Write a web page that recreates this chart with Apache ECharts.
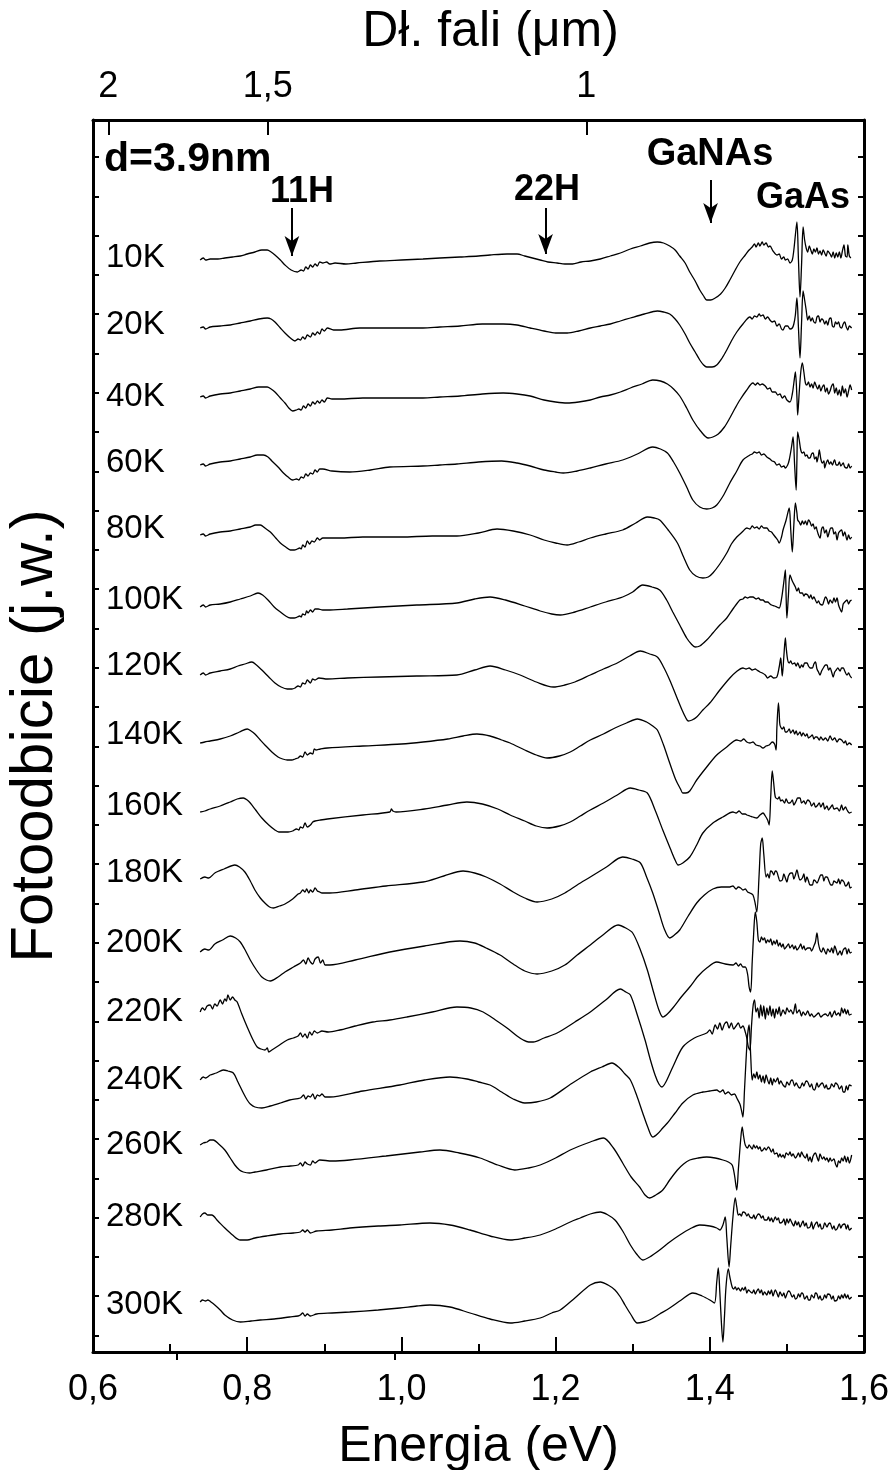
<!DOCTYPE html>
<html>
<head>
<meta charset="utf-8">
<script src="https://cdn.jsdelivr.net/npm/echarts@6/dist/echarts.min.js"></script>
<style>
  html, body { margin: 0; padding: 0; background: #fff; }
  #chart { width: 893px; height: 1470px; }
</style>
</head>
<body>
<div id="chart"></div>
<script>
// temperatures, top to bottom
const temps = ['10K', '20K', '40K', '60K', '80K', '100K', '120K', '140K',
               '160K', '180K', '200K', '220K', '240K', '260K', '280K', '300K'];
// vertical shift of every spectrum (arb. units)
const offsets = [1092, 1024, 955, 887, 817, 745, 677, 609, 540, 473, 400, 340, 272, 207, 135, 50];

// spectra: [energy (eV), PR signal (arb. units)]
const t10 = [[0.739,0],[0.743,2],[0.746,0],[0.752,1],[0.762,1],[0.771,2],[0.781,3],[0.791,4],[0.800,6],[0.810,8],[0.819,10],[0.826,10],[0.831,8],[0.836,5],[0.843,0],[0.849,-5],[0.857,-10],[0.865,-12],[0.870,-10],[0.873,-11],[0.876,-7],[0.879,-9],[0.882,-5],[0.885,-7],[0.888,-4],[0.891,-6],[0.894,-2],[0.898,-3],[0.903,-2],[0.907,-4],[0.914,-3],[0.928,-4],[0.942,-3],[0.972,-1],[1.000,0],[1.028,1],[1.050,2],[1.076,3],[1.100,4],[1.115,5],[1.137,6],[1.150,6],[1.160,4],[1.170,2],[1.180,0],[1.190,-2],[1.202,-3],[1.212,-4],[1.222,-4],[1.233,-2],[1.245,-1],[1.258,1],[1.271,4],[1.284,7],[1.297,11],[1.310,14],[1.322,17],[1.332,18],[1.340,17],[1.348,14],[1.355,10],[1.361,4],[1.368,-3],[1.374,-12],[1.381,-21],[1.387,-30],[1.392,-36],[1.396,-40],[1.401,-40],[1.407,-38],[1.414,-34],[1.420,-28],[1.426,-20],[1.433,-10],[1.439,-2],[1.446,5],[1.451,10],[1.455,13],[1.458,16],[1.460,13],[1.463,17],[1.465,14],[1.468,18],[1.470,15],[1.473,17],[1.476,13],[1.478,14],[1.482,9],[1.487,5],[1.490,6],[1.493,1],[1.496,3],[1.498,0],[1.501,1],[1.504,-3],[1.507,0],[1.509,10],[1.511,25],[1.513,38],[1.515,0],[1.517,-37],[1.519,-5],[1.521,33],[1.523,20],[1.525,12],[1.527,8],[1.529,14],[1.531,10],[1.533,6],[1.535,11],[1.537,8],[1.539,12],[1.541,6],[1.543,9],[1.545,5],[1.547,10],[1.549,7],[1.551,4],[1.553,9],[1.556,6],[1.558,3],[1.560,8],[1.562,2],[1.564,7],[1.566,3],[1.568,8],[1.570,2],[1.572,9],[1.574,15],[1.576,4],[1.578,3],[1.579,15],[1.581,4],[1.583,2]];
const t20 = [[0.739,0],[0.743,1],[0.746,-1],[0.752,1],[0.765,2],[0.778,3],[0.791,5],[0.804,7],[0.815,9],[0.826,10],[0.831,9],[0.836,6],[0.843,0],[0.849,-5],[0.856,-10],[0.862,-13],[0.866,-11],[0.869,-12],[0.872,-9],[0.875,-11],[0.878,-7],[0.882,-9],[0.885,-5],[0.888,-7],[0.891,-4],[0.894,-6],[0.897,-1],[0.900,-3],[0.904,0],[0.912,-2],[0.920,-2],[0.946,0],[0.985,0],[1.028,0],[1.050,1],[1.076,2],[1.105,4],[1.132,4],[1.150,3],[1.167,0],[1.185,-3],[1.200,-5],[1.215,-5],[1.230,-3],[1.245,0],[1.258,2],[1.271,4],[1.284,7],[1.297,10],[1.315,14],[1.332,17],[1.340,16],[1.348,14],[1.355,9],[1.361,3],[1.368,-6],[1.374,-15],[1.381,-24],[1.387,-32],[1.392,-37],[1.396,-39],[1.403,-39],[1.409,-37],[1.416,-30],[1.422,-22],[1.428,-13],[1.435,-4],[1.443,4],[1.452,11],[1.455,9],[1.458,12],[1.461,11],[1.464,14],[1.466,12],[1.469,13],[1.472,9],[1.475,11],[1.478,8],[1.481,6],[1.484,7],[1.487,2],[1.490,4],[1.493,-1],[1.495,-2],[1.498,2],[1.501,2],[1.504,-1],[1.507,0],[1.509,4],[1.511,13],[1.513,30],[1.515,0],[1.517,-30],[1.519,5],[1.521,37],[1.523,28],[1.525,18],[1.527,8],[1.529,12],[1.531,7],[1.533,10],[1.535,6],[1.537,5],[1.539,11],[1.541,12],[1.543,6],[1.545,9],[1.547,8],[1.549,4],[1.551,7],[1.553,3],[1.555,9],[1.557,10],[1.559,2],[1.561,1],[1.563,6],[1.565,4],[1.567,6],[1.569,1],[1.571,0],[1.573,4],[1.575,6],[1.577,1],[1.579,-2],[1.581,2],[1.584,0]];
const t40 = [[0.739,0],[0.743,1],[0.746,-1],[0.752,1],[0.765,3],[0.778,4],[0.791,6],[0.804,8],[0.815,10],[0.826,10],[0.831,8],[0.836,5],[0.843,-1],[0.849,-6],[0.854,-11],[0.859,-14],[0.864,-13],[0.867,-12],[0.870,-13],[0.873,-9],[0.876,-11],[0.879,-7],[0.882,-9],[0.885,-5],[0.888,-7],[0.891,-4],[0.894,-6],[0.897,-3],[0.900,-5],[0.904,-1],[0.910,-2],[0.920,-2],[0.950,-1],[0.985,-1],[1.028,-1],[1.050,0],[1.076,1],[1.105,3],[1.132,4],[1.150,3],[1.167,1],[1.185,-3],[1.200,-5],[1.215,-6],[1.230,-5],[1.245,-3],[1.258,0],[1.271,2],[1.284,5],[1.297,9],[1.312,13],[1.326,17],[1.336,16],[1.345,13],[1.353,8],[1.361,1],[1.370,-11],[1.378,-23],[1.388,-34],[1.398,-41],[1.404,-40],[1.411,-37],[1.419,-30],[1.426,-21],[1.433,-11],[1.439,-3],[1.447,6],[1.456,14],[1.459,12],[1.462,14],[1.465,12],[1.468,13],[1.472,11],[1.475,8],[1.478,9],[1.481,5],[1.485,5],[1.488,2],[1.491,3],[1.494,-1],[1.497,1],[1.500,-3],[1.504,-5],[1.507,3],[1.509,14],[1.511,25],[1.513,0],[1.514,-18],[1.516,5],[1.518,25],[1.520,34],[1.522,25],[1.524,14],[1.526,12],[1.528,15],[1.530,10],[1.532,13],[1.534,9],[1.536,15],[1.538,11],[1.540,8],[1.542,12],[1.544,6],[1.546,10],[1.548,12],[1.550,5],[1.552,9],[1.554,3],[1.556,6],[1.558,11],[1.560,13],[1.562,4],[1.564,9],[1.566,2],[1.568,7],[1.570,1],[1.572,11],[1.574,4],[1.576,8],[1.578,0],[1.580,6],[1.582,12],[1.584,7]];
const t60 = [[0.739,0],[0.743,1],[0.746,-1],[0.752,1],[0.765,3],[0.778,4],[0.791,6],[0.804,8],[0.813,10],[0.821,10],[0.827,8],[0.832,4],[0.840,-2],[0.847,-8],[0.853,-12],[0.859,-15],[0.864,-14],[0.867,-15],[0.870,-12],[0.873,-13],[0.876,-9],[0.879,-11],[0.882,-8],[0.885,-9],[0.888,-5],[0.891,-7],[0.894,-4],[0.898,-4],[0.910,-6],[0.933,-7],[0.960,-5],[0.985,-2],[1.028,-1],[1.050,0],[1.072,1],[1.100,3],[1.130,4],[1.150,2],[1.167,-1],[1.185,-5],[1.200,-7],[1.210,-8],[1.228,-6],[1.245,-3],[1.265,1],[1.287,5],[1.306,11],[1.326,18],[1.336,16],[1.345,12],[1.353,3],[1.361,-8],[1.370,-22],[1.378,-35],[1.387,-42],[1.396,-44],[1.403,-43],[1.409,-40],[1.418,-30],[1.426,-18],[1.435,-6],[1.443,5],[1.452,10],[1.455,11],[1.458,13],[1.461,12],[1.464,13],[1.467,10],[1.470,11],[1.474,8],[1.478,6],[1.481,4],[1.484,3],[1.487,0],[1.490,1],[1.493,-2],[1.496,-1],[1.498,-3],[1.501,0],[1.503,5],[1.506,18],[1.508,28],[1.510,0],[1.512,-25],[1.513,5],[1.514,33],[1.516,25],[1.518,15],[1.520,12],[1.522,13],[1.524,9],[1.526,10],[1.528,7],[1.530,7],[1.532,11],[1.534,12],[1.536,6],[1.538,8],[1.539,3],[1.541,10],[1.542,15],[1.544,6],[1.546,2],[1.548,4],[1.549,-3],[1.551,2],[1.553,5],[1.555,1],[1.557,3],[1.559,0],[1.561,4],[1.562,5],[1.564,0],[1.566,0],[1.568,3],[1.570,-1],[1.573,2],[1.575,-2],[1.578,-3],[1.580,1],[1.582,-3],[1.584,-1]];
const t80 = [[0.739,0],[0.743,1],[0.746,-1],[0.752,1],[0.765,3],[0.778,4],[0.791,6],[0.804,8],[0.811,10],[0.817,10],[0.823,7],[0.830,3],[0.837,-3],[0.843,-8],[0.850,-12],[0.856,-15],[0.861,-15],[0.865,-14],[0.868,-13],[0.870,-14],[0.872,-10],[0.875,-12],[0.878,-6],[0.881,-9],[0.884,-6],[0.887,-7],[0.891,-3],[0.894,-5],[0.898,-3],[0.920,-3],[0.950,-2],[1.000,-2],[1.040,-1],[1.072,-1],[1.100,2],[1.124,6],[1.145,4],[1.167,0],[1.185,-5],[1.200,-8],[1.215,-10],[1.230,-7],[1.245,-3],[1.265,1],[1.287,5],[1.304,12],[1.319,18],[1.328,17],[1.335,15],[1.346,5],[1.358,-8],[1.366,-22],[1.374,-35],[1.382,-41],[1.391,-43],[1.398,-42],[1.404,-38],[1.413,-29],[1.422,-18],[1.428,-9],[1.435,-2],[1.442,3],[1.448,7],[1.452,6],[1.455,9],[1.458,7],[1.461,8],[1.464,6],[1.467,9],[1.470,7],[1.474,7],[1.477,4],[1.480,3],[1.483,0],[1.485,-2],[1.488,-5],[1.490,-8],[1.493,-2],[1.495,5],[1.499,15],[1.503,27],[1.505,5],[1.507,-17],[1.509,10],[1.511,32],[1.513,22],[1.514,15],[1.516,13],[1.518,10],[1.520,14],[1.522,11],[1.524,14],[1.526,10],[1.528,15],[1.530,13],[1.532,9],[1.534,11],[1.536,6],[1.538,8],[1.539,5],[1.541,0],[1.543,-3],[1.545,6],[1.547,8],[1.549,2],[1.551,5],[1.553,-2],[1.555,3],[1.557,7],[1.559,7],[1.561,1],[1.563,3],[1.565,-5],[1.567,2],[1.569,4],[1.571,5],[1.573,-1],[1.575,3],[1.578,-5],[1.580,0],[1.582,-4],[1.584,-2]];
const t100 = [[0.739,0],[0.743,2],[0.746,0],[0.752,2],[0.765,3],[0.778,5],[0.791,8],[0.804,11],[0.814,14],[0.820,12],[0.827,7],[0.835,0],[0.843,-5],[0.850,-9],[0.856,-11],[0.861,-11],[0.865,-10],[0.868,-9],[0.870,-10],[0.872,-7],[0.875,-8],[0.877,-4],[0.879,-6],[0.882,-3],[0.885,-5],[0.888,-2],[0.892,-2],[0.898,-3],[0.904,-3],[0.930,-2],[0.972,0],[1.020,2],[1.072,4],[1.095,8],[1.115,10],[1.135,7],[1.160,1],[1.180,-4],[1.195,-7],[1.206,-8],[1.225,-5],[1.245,0],[1.265,5],[1.287,10],[1.300,15],[1.313,22],[1.325,20],[1.335,17],[1.344,7],[1.352,-5],[1.361,-18],[1.370,-31],[1.376,-37],[1.381,-40],[1.387,-39],[1.396,-33],[1.404,-26],[1.413,-18],[1.422,-11],[1.430,-2],[1.439,7],[1.443,8],[1.446,10],[1.449,9],[1.452,10],[1.456,10],[1.460,8],[1.463,9],[1.466,7],[1.469,7],[1.472,5],[1.475,5],[1.478,3],[1.480,2],[1.484,1],[1.487,0],[1.490,-1],[1.493,8],[1.496,25],[1.498,37],[1.499,10],[1.500,-11],[1.502,12],[1.504,32],[1.507,26],[1.511,20],[1.513,16],[1.515,19],[1.517,14],[1.520,14],[1.522,11],[1.524,13],[1.527,12],[1.529,9],[1.531,12],[1.533,8],[1.535,10],[1.537,7],[1.539,4],[1.541,6],[1.543,3],[1.546,2],[1.548,6],[1.550,10],[1.552,8],[1.554,3],[1.556,7],[1.559,4],[1.561,9],[1.563,5],[1.565,9],[1.567,2],[1.569,-2],[1.571,-5],[1.573,3],[1.575,5],[1.578,7],[1.580,3],[1.582,6],[1.584,7]];
const t120 = [[0.739,0],[0.743,2],[0.746,0],[0.752,2],[0.765,4],[0.778,6],[0.788,9],[0.797,11],[0.806,13],[0.812,10],[0.819,5],[0.828,-2],[0.836,-8],[0.844,-12],[0.852,-14],[0.858,-14],[0.862,-13],[0.866,-11],[0.869,-12],[0.872,-8],[0.875,-9],[0.878,-5],[0.882,-8],[0.885,-4],[0.888,-5],[0.893,-3],[0.904,-4],[0.930,-3],[0.972,-2],[1.020,-1],[1.072,0],[1.095,5],[1.115,9],[1.135,5],[1.154,0],[1.175,-7],[1.197,-12],[1.212,-10],[1.225,-7],[1.245,0],[1.262,6],[1.280,12],[1.296,19],[1.310,24],[1.322,21],[1.332,18],[1.340,8],[1.348,-5],[1.356,-20],[1.364,-35],[1.369,-43],[1.372,-46],[1.377,-45],[1.383,-42],[1.391,-35],[1.400,-28],[1.413,-15],[1.426,-3],[1.434,3],[1.443,7],[1.447,6],[1.451,7],[1.455,5],[1.459,6],[1.461,5],[1.465,3],[1.468,2],[1.472,0],[1.475,-3],[1.479,-1],[1.483,-3],[1.487,-2],[1.490,8],[1.492,17],[1.493,8],[1.494,-1],[1.496,18],[1.498,37],[1.499,28],[1.501,15],[1.503,12],[1.505,14],[1.507,11],[1.510,12],[1.512,9],[1.514,12],[1.517,7],[1.519,10],[1.521,8],[1.523,12],[1.526,12],[1.528,9],[1.530,7],[1.533,7],[1.535,11],[1.537,13],[1.539,6],[1.541,3],[1.543,0],[1.545,4],[1.548,8],[1.550,10],[1.552,10],[1.554,5],[1.556,7],[1.558,3],[1.560,-2],[1.562,3],[1.564,5],[1.566,7],[1.569,4],[1.571,7],[1.573,7],[1.575,4],[1.578,0],[1.580,2],[1.582,-1],[1.584,-3]];
const t140 = [[0.739,0],[0.745,1],[0.752,2],[0.765,4],[0.778,7],[0.790,11],[0.800,14],[0.805,12],[0.810,9],[0.817,3],[0.823,-2],[0.832,-9],[0.840,-14],[0.846,-16],[0.852,-17],[0.858,-17],[0.862,-16],[0.866,-15],[0.869,-13],[0.872,-14],[0.875,-9],[0.878,-12],[0.882,-10],[0.885,-11],[0.887,-6],[0.889,-7],[0.895,-6],[0.904,-5],[0.950,-3],[1.000,-1],[1.028,1],[1.060,4],[1.080,7],[1.098,9],[1.115,7],[1.130,3],[1.141,0],[1.160,-7],[1.175,-12],[1.189,-15],[1.205,-13],[1.219,-9],[1.232,-3],[1.245,3],[1.262,9],[1.277,15],[1.292,20],[1.306,24],[1.318,21],[1.326,17],[1.332,13],[1.340,-2],[1.348,-20],[1.356,-37],[1.362,-46],[1.365,-50],[1.369,-50],[1.374,-48],[1.383,-37],[1.396,-24],[1.409,-12],[1.422,-4],[1.435,3],[1.440,2],[1.444,4],[1.448,1],[1.452,0],[1.456,1],[1.460,-2],[1.465,-3],[1.469,-5],[1.473,-3],[1.477,-2],[1.481,1],[1.484,-1],[1.486,-7],[1.487,15],[1.489,40],[1.490,30],[1.491,18],[1.494,14],[1.496,16],[1.498,11],[1.500,11],[1.503,14],[1.505,10],[1.508,13],[1.510,9],[1.512,12],[1.514,8],[1.517,11],[1.519,7],[1.521,10],[1.524,7],[1.526,9],[1.528,5],[1.530,6],[1.533,8],[1.535,4],[1.537,6],[1.539,6],[1.542,3],[1.544,6],[1.547,3],[1.550,5],[1.553,2],[1.556,7],[1.559,3],[1.562,5],[1.565,1],[1.568,4],[1.571,3],[1.574,0],[1.576,2],[1.578,-2],[1.581,0],[1.584,-2]];
const t160 = [[0.739,0],[0.745,1],[0.752,3],[0.765,6],[0.778,10],[0.787,13],[0.795,14],[0.800,12],[0.804,9],[0.811,2],[0.819,-6],[0.828,-13],[0.836,-18],[0.841,-20],[0.846,-20],[0.853,-20],[0.859,-19],[0.864,-17],[0.867,-18],[0.869,-15],[0.872,-16],[0.875,-11],[0.878,-15],[0.882,-13],[0.885,-10],[0.888,-9],[0.895,-8],[0.904,-7],[0.950,-3],[0.985,0],[0.987,3],[0.989,1],[0.993,0],[1.030,3],[1.060,7],[1.085,10],[1.105,8],[1.125,3],[1.141,-3],[1.160,-9],[1.175,-14],[1.189,-16],[1.205,-14],[1.219,-10],[1.232,-4],[1.245,2],[1.262,9],[1.280,17],[1.297,24],[1.308,22],[1.319,19],[1.329,2],[1.339,-18],[1.349,-37],[1.355,-48],[1.359,-53],[1.365,-51],[1.374,-45],[1.383,-33],[1.391,-21],[1.404,-11],[1.417,-5],[1.430,0],[1.434,-1],[1.438,1],[1.442,-2],[1.446,-2],[1.448,-3],[1.452,-4],[1.456,-5],[1.461,-6],[1.465,-3],[1.469,-1],[1.472,-4],[1.475,-8],[1.477,-13],[1.479,15],[1.481,41],[1.483,28],[1.485,15],[1.488,13],[1.490,15],[1.492,11],[1.494,12],[1.497,9],[1.499,13],[1.502,9],[1.504,9],[1.507,12],[1.509,7],[1.512,11],[1.514,14],[1.517,14],[1.519,9],[1.522,11],[1.524,8],[1.527,12],[1.530,10],[1.532,6],[1.535,9],[1.537,5],[1.539,6],[1.542,9],[1.544,5],[1.547,9],[1.549,3],[1.552,6],[1.554,2],[1.556,4],[1.559,7],[1.561,3],[1.565,4],[1.568,1],[1.571,7],[1.573,2],[1.576,5],[1.578,2],[1.581,-1],[1.584,0]];
const t180 = [[0.739,0],[0.745,2],[0.750,1],[0.758,6],[0.770,10],[0.784,14],[0.790,12],[0.797,7],[0.804,-2],[0.810,-11],[0.817,-19],[0.823,-24],[0.829,-28],[0.834,-29],[0.842,-27],[0.849,-25],[0.859,-20],[0.866,-15],[0.869,-14],[0.872,-11],[0.875,-13],[0.877,-10],[0.880,-14],[0.882,-11],[0.885,-13],[0.888,-9],[0.891,-12],[0.894,-13],[0.897,-14],[0.907,-14],[0.940,-11],[0.980,-7],[1.028,-3],[1.055,3],[1.080,8],[1.095,6],[1.110,2],[1.128,-5],[1.145,-13],[1.160,-19],[1.176,-23],[1.195,-20],[1.212,-14],[1.228,-6],[1.245,2],[1.266,12],[1.287,22],[1.299,20],[1.310,16],[1.318,2],[1.326,-14],[1.334,-33],[1.341,-50],[1.348,-59],[1.354,-56],[1.361,-51],[1.372,-37],[1.383,-24],[1.393,-16],[1.404,-10],[1.415,-8],[1.426,-8],[1.430,-7],[1.434,-10],[1.437,-8],[1.440,-9],[1.443,-11],[1.446,-10],[1.449,-13],[1.452,-14],[1.456,-16],[1.459,-25],[1.461,-33],[1.464,5],[1.466,35],[1.468,41],[1.470,25],[1.473,2],[1.475,5],[1.477,1],[1.479,8],[1.481,7],[1.483,4],[1.485,8],[1.487,7],[1.489,2],[1.491,-2],[1.494,-1],[1.496,5],[1.498,1],[1.500,-3],[1.502,3],[1.505,6],[1.507,6],[1.509,0],[1.511,4],[1.513,9],[1.515,3],[1.517,-1],[1.520,1],[1.522,5],[1.524,-3],[1.526,2],[1.528,-2],[1.530,-6],[1.533,-6],[1.535,-1],[1.537,-2],[1.539,-4],[1.542,1],[1.544,4],[1.546,4],[1.548,-2],[1.550,2],[1.552,2],[1.555,-3],[1.557,-6],[1.559,-6],[1.561,-2],[1.563,-3],[1.565,-4],[1.567,0],[1.569,-5],[1.571,-1],[1.574,-3],[1.576,-7],[1.578,-6],[1.580,-3],[1.582,-9],[1.584,-8]];
const t200 = [[0.739,0],[0.745,3],[0.750,2],[0.758,8],[0.768,12],[0.778,16],[0.785,14],[0.791,10],[0.798,1],[0.804,-8],[0.812,-18],[0.819,-25],[0.825,-28],[0.830,-29],[0.840,-25],[0.849,-20],[0.860,-15],[0.869,-11],[0.873,-8],[0.876,-12],[0.879,-6],[0.882,-10],[0.885,-12],[0.888,-7],[0.892,-5],[0.895,-11],[0.898,-8],[0.901,-13],[0.907,-13],[0.940,-8],[0.985,0],[1.030,6],[1.076,11],[1.095,9],[1.110,4],[1.128,-3],[1.145,-12],[1.160,-19],[1.176,-22],[1.195,-19],[1.212,-13],[1.228,-3],[1.245,7],[1.263,18],[1.281,27],[1.291,24],[1.300,19],[1.310,2],[1.319,-18],[1.327,-40],[1.334,-58],[1.339,-65],[1.345,-62],[1.352,-56],[1.363,-45],[1.374,-35],[1.385,-24],[1.396,-16],[1.409,-10],[1.420,-12],[1.430,-13],[1.434,-11],[1.437,-14],[1.440,-12],[1.443,-15],[1.446,-15],[1.449,-22],[1.451,-35],[1.453,-40],[1.455,-10],[1.457,20],[1.459,40],[1.461,30],[1.463,12],[1.465,10],[1.467,15],[1.469,12],[1.471,14],[1.473,9],[1.475,12],[1.477,10],[1.479,13],[1.481,7],[1.483,11],[1.485,8],[1.487,12],[1.489,6],[1.491,9],[1.493,5],[1.495,8],[1.497,3],[1.500,6],[1.502,8],[1.504,4],[1.507,7],[1.509,3],[1.511,6],[1.513,2],[1.516,5],[1.518,8],[1.520,3],[1.522,6],[1.524,2],[1.527,4],[1.530,4],[1.532,1],[1.535,6],[1.537,10],[1.539,19],[1.541,8],[1.543,2],[1.545,0],[1.547,4],[1.549,1],[1.551,-2],[1.553,3],[1.556,0],[1.558,4],[1.560,-1],[1.562,6],[1.564,2],[1.566,-3],[1.569,1],[1.571,-3],[1.573,2],[1.576,4],[1.578,-2],[1.580,3],[1.582,-1],[1.584,0]];
const t220 = [[0.739,0],[0.742,4],[0.745,2],[0.748,6],[0.752,7],[0.755,3],[0.758,8],[0.761,6],[0.765,12],[0.768,8],[0.771,13],[0.773,11],[0.775,17],[0.778,12],[0.781,15],[0.784,12],[0.787,10],[0.793,-2],[0.800,-15],[0.807,-27],[0.813,-35],[0.818,-37],[0.823,-38],[0.826,-36],[0.828,-40],[0.832,-38],[0.840,-34],[0.852,-28],[0.860,-26],[0.866,-24],[0.869,-21],[0.872,-25],[0.875,-22],[0.878,-26],[0.881,-20],[0.884,-23],[0.887,-19],[0.891,-21],[0.897,-19],[0.905,-20],[0.920,-18],[0.940,-14],[0.963,-10],[0.985,-8],[1.007,-5],[1.040,0],[1.072,5],[1.090,4],[1.106,0],[1.122,-8],[1.137,-16],[1.150,-24],[1.158,-28],[1.165,-30],[1.171,-30],[1.185,-26],[1.202,-21],[1.225,-10],[1.245,0],[1.265,12],[1.284,23],[1.291,20],[1.297,17],[1.306,-3],[1.316,-28],[1.323,-48],[1.329,-63],[1.334,-72],[1.338,-75],[1.343,-70],[1.352,-55],[1.365,-35],[1.380,-26],[1.396,-21],[1.400,-18],[1.403,-22],[1.407,-13],[1.410,-17],[1.413,-11],[1.416,-18],[1.419,-12],[1.422,-10],[1.425,-16],[1.428,-11],[1.431,-17],[1.434,-14],[1.437,-11],[1.440,-16],[1.443,-14],[1.446,-20],[1.448,-26],[1.450,-35],[1.452,-38],[1.454,-15],[1.456,5],[1.458,12],[1.460,0],[1.462,4],[1.464,-6],[1.466,7],[1.468,-4],[1.470,6],[1.472,-7],[1.474,4],[1.476,-3],[1.478,6],[1.480,-4],[1.482,3],[1.484,-6],[1.486,3],[1.488,-2],[1.490,5],[1.492,-4],[1.495,2],[1.498,-2],[1.500,4],[1.503,0],[1.505,2],[1.508,-2],[1.511,8],[1.513,-1],[1.516,2],[1.519,-4],[1.521,0],[1.524,-3],[1.527,1],[1.530,-4],[1.532,-2],[1.535,-5],[1.538,-3],[1.541,-1],[1.544,-5],[1.547,-3],[1.550,-2],[1.553,-4],[1.556,0],[1.558,-5],[1.560,-2],[1.562,1],[1.564,-3],[1.567,-1],[1.569,-4],[1.571,4],[1.573,-1],[1.575,3],[1.577,-2],[1.579,2],[1.581,-3],[1.584,-2]];
const t240 = [[0.739,0],[0.743,3],[0.746,2],[0.752,5],[0.760,7],[0.769,10],[0.775,9],[0.782,7],[0.788,-2],[0.795,-13],[0.800,-20],[0.804,-24],[0.810,-27],[0.819,-28],[0.830,-26],[0.843,-23],[0.855,-20],[0.869,-18],[0.873,-15],[0.876,-19],[0.879,-16],[0.882,-17],[0.885,-14],[0.888,-19],[0.891,-15],[0.894,-16],[0.897,-14],[0.901,-17],[0.907,-17],[0.950,-11],[0.998,-5],[1.030,0],[1.063,3],[1.085,1],[1.100,-2],[1.115,-5],[1.130,-12],[1.145,-19],[1.160,-23],[1.175,-22],[1.193,-18],[1.218,-5],[1.245,8],[1.260,13],[1.273,17],[1.283,12],[1.290,6],[1.297,0],[1.305,-15],[1.313,-33],[1.320,-48],[1.326,-57],[1.332,-54],[1.339,-48],[1.345,-43],[1.355,-33],[1.365,-23],[1.378,-15],[1.391,-12],[1.400,-11],[1.409,-10],[1.413,-12],[1.417,-10],[1.420,-14],[1.424,-12],[1.428,-15],[1.432,-14],[1.435,-18],[1.439,-24],[1.441,-30],[1.443,-37],[1.445,-10],[1.447,20],[1.449,45],[1.451,55],[1.453,25],[1.455,0],[1.457,6],[1.459,2],[1.461,8],[1.463,1],[1.465,5],[1.467,-2],[1.469,4],[1.471,-3],[1.473,5],[1.475,0],[1.477,-4],[1.479,2],[1.481,-5],[1.483,1],[1.485,-2],[1.488,2],[1.490,-4],[1.492,-1],[1.495,-5],[1.498,-7],[1.500,-2],[1.503,-5],[1.505,-1],[1.507,0],[1.510,-6],[1.512,-3],[1.515,-7],[1.517,-8],[1.520,-3],[1.522,-6],[1.525,-1],[1.527,-2],[1.530,-7],[1.532,-4],[1.534,-9],[1.536,-10],[1.539,-3],[1.541,-7],[1.544,-4],[1.546,-3],[1.549,-8],[1.551,-5],[1.553,-9],[1.556,-8],[1.558,-4],[1.561,-7],[1.563,-3],[1.566,-5],[1.568,-9],[1.571,-6],[1.573,-12],[1.575,-12],[1.577,-6],[1.579,-10],[1.581,-5],[1.584,-6]];
const t260 = [[0.739,0],[0.743,2],[0.748,3],[0.752,5],[0.756,5],[0.763,1],[0.771,-5],[0.778,-13],[0.784,-20],[0.790,-25],[0.795,-27],[0.803,-28],[0.810,-27],[0.825,-25],[0.843,-22],[0.856,-21],[0.866,-20],[0.869,-18],[0.872,-21],[0.875,-17],[0.878,-19],[0.882,-20],[0.885,-16],[0.888,-18],[0.894,-15],[0.910,-16],[0.933,-15],[0.980,-11],[1.024,-7],[1.050,-5],[1.075,-8],[1.102,-13],[1.125,-20],[1.147,-25],[1.165,-23],[1.180,-20],[1.200,-13],[1.219,-5],[1.245,3],[1.262,7],[1.275,-3],[1.287,-18],[1.298,-32],[1.309,-42],[1.316,-50],[1.322,-53],[1.330,-50],[1.339,-45],[1.348,-35],[1.358,-25],[1.366,-19],[1.374,-15],[1.385,-13],[1.396,-12],[1.407,-13],[1.417,-15],[1.424,-17],[1.429,-20],[1.432,-30],[1.435,-45],[1.437,-25],[1.440,5],[1.442,18],[1.444,8],[1.446,0],[1.449,-3],[1.451,0],[1.453,-2],[1.455,-4],[1.457,0],[1.459,-3],[1.461,-1],[1.463,-4],[1.465,-2],[1.467,-6],[1.469,-5],[1.471,-3],[1.473,-5],[1.476,-2],[1.478,-4],[1.480,-7],[1.482,-4],[1.484,-9],[1.487,-8],[1.489,-12],[1.491,-9],[1.493,-12],[1.495,-10],[1.497,-13],[1.499,-8],[1.502,-10],[1.504,-7],[1.506,-11],[1.508,-9],[1.511,-13],[1.513,-11],[1.515,-8],[1.517,-12],[1.519,-7],[1.521,-10],[1.524,-13],[1.526,-9],[1.528,-16],[1.530,-12],[1.532,-17],[1.534,-11],[1.537,-8],[1.539,-12],[1.541,-16],[1.543,-9],[1.546,-14],[1.548,-12],[1.550,-15],[1.552,-13],[1.554,-17],[1.556,-13],[1.558,-16],[1.561,-14],[1.563,-19],[1.565,-22],[1.567,-16],[1.569,-18],[1.571,-13],[1.573,-16],[1.575,-11],[1.577,-17],[1.579,-12],[1.581,-18],[1.584,-10]];
const t280 = [[0.739,0],[0.742,3],[0.745,4],[0.749,2],[0.754,2],[0.762,-4],[0.771,-11],[0.781,-18],[0.791,-23],[0.800,-23],[0.810,-21],[0.825,-19],[0.843,-17],[0.860,-16],[0.869,-15],[0.872,-13],[0.875,-15],[0.878,-13],[0.882,-16],[0.890,-14],[0.910,-13],[0.933,-11],[0.970,-9],[0.998,-8],[1.037,-6],[1.063,-8],[1.089,-13],[1.115,-19],[1.141,-23],[1.160,-21],[1.180,-18],[1.200,-12],[1.219,-5],[1.232,-1],[1.245,3],[1.258,5],[1.268,2],[1.277,-3],[1.287,-14],[1.297,-28],[1.305,-37],[1.313,-43],[1.322,-40],[1.335,-33],[1.348,-25],[1.361,-18],[1.374,-12],[1.387,-8],[1.400,-9],[1.409,-11],[1.413,-13],[1.417,-8],[1.420,0],[1.422,-20],[1.425,-50],[1.427,-30],[1.430,0],[1.433,19],[1.435,10],[1.437,2],[1.439,3],[1.441,1],[1.443,5],[1.446,4],[1.448,1],[1.450,3],[1.452,0],[1.455,-1],[1.457,2],[1.459,-2],[1.461,1],[1.463,3],[1.465,2],[1.467,-1],[1.469,1],[1.471,-3],[1.474,-3],[1.476,0],[1.478,-4],[1.480,-1],[1.482,-5],[1.485,0],[1.487,-3],[1.489,-1],[1.491,-6],[1.494,-5],[1.496,-2],[1.498,-8],[1.500,-2],[1.502,-6],[1.504,-2],[1.506,-5],[1.509,-9],[1.511,-4],[1.513,-8],[1.515,-5],[1.517,-10],[1.519,-7],[1.521,-4],[1.523,-9],[1.525,-6],[1.527,-11],[1.530,-10],[1.532,-5],[1.534,-12],[1.536,-8],[1.539,-5],[1.541,-10],[1.543,-7],[1.545,-12],[1.547,-11],[1.549,-6],[1.552,-10],[1.554,-7],[1.556,-6],[1.559,-12],[1.561,-9],[1.563,-13],[1.565,-12],[1.568,-7],[1.570,-11],[1.572,-8],[1.575,-7],[1.577,-12],[1.579,-8],[1.581,-13],[1.584,-11]];
const t300 = [[0.739,0],[0.742,2],[0.746,1],[0.749,2],[0.753,0],[0.758,-3],[0.765,-8],[0.771,-13],[0.781,-18],[0.791,-20],[0.805,-19],[0.817,-18],[0.835,-17],[0.855,-15],[0.866,-14],[0.869,-13],[0.872,-11],[0.875,-14],[0.878,-12],[0.882,-14],[0.890,-12],[0.910,-11],[0.933,-10],[0.970,-8],[0.998,-6],[1.020,-4],[1.037,-3],[1.063,-5],[1.089,-11],[1.115,-17],[1.141,-21],[1.160,-19],[1.180,-16],[1.195,-11],[1.206,-8],[1.225,4],[1.245,17],[1.258,20],[1.268,17],[1.277,12],[1.284,5],[1.290,-3],[1.298,-13],[1.306,-21],[1.314,-20],[1.322,-18],[1.335,-12],[1.348,-6],[1.363,2],[1.378,9],[1.390,6],[1.400,2],[1.406,-1],[1.409,20],[1.411,34],[1.413,10],[1.415,-20],[1.417,-40],[1.419,-15],[1.421,15],[1.424,33],[1.426,25],[1.429,15],[1.431,13],[1.433,15],[1.435,12],[1.437,14],[1.440,11],[1.442,14],[1.444,12],[1.446,15],[1.448,9],[1.450,12],[1.453,10],[1.455,9],[1.457,12],[1.459,8],[1.461,11],[1.463,13],[1.465,9],[1.467,12],[1.469,7],[1.471,10],[1.474,7],[1.476,11],[1.478,8],[1.480,12],[1.482,6],[1.485,12],[1.487,9],[1.489,5],[1.491,10],[1.494,6],[1.496,9],[1.498,4],[1.500,8],[1.502,11],[1.504,10],[1.507,5],[1.509,7],[1.511,3],[1.513,4],[1.515,8],[1.517,5],[1.519,9],[1.521,8],[1.523,3],[1.526,6],[1.528,2],[1.530,2],[1.532,7],[1.535,4],[1.537,9],[1.539,8],[1.541,3],[1.543,6],[1.545,2],[1.547,3],[1.549,7],[1.551,4],[1.553,8],[1.556,7],[1.558,3],[1.560,6],[1.562,1],[1.565,2],[1.567,6],[1.569,3],[1.571,7],[1.573,4],[1.575,8],[1.577,4],[1.579,7],[1.581,3],[1.584,5]];

const spectra = [t10, t20, t40, t60, t80, t100, t120, t140, t160, t180, t200, t220, t240, t260, t280, t300];

// top axis: wavelength ticks (um)
const wlTicks = [2, 1.5, 1];
const wlMinor = [1.75, 1.25];
const hc = 1.2398;

// label rows (px from top of the page)
const labelY = [258, 325, 397, 463, 529, 600, 666, 735, 806, 873, 943, 1012, 1080, 1145, 1217, 1305];

const yTicks = [];
for (let k = 0; k <= 30; k++) yTicks.push(16.5 + 39.28 * k);

const FONT = '"Liberation Sans", Arial, Helvetica, sans-serif';
const black = '#000';

let chart = echarts.init(document.getElementById('chart'));

const series = spectra.map((pts, i) => ({
  name: temps[i],
  type: 'line',
  data: pts.map(p => [p[0], p[1] + offsets[i]]),
  showSymbol: false,
  symbol: 'none',
  smooth: 0.3,
  lineStyle: { color: black, width: 1.3 },
  animation: false,
  silent: true,
  z: 3
}));

// arrows for 11H, 22H, GaNAs
series[0].markLine = {
  silent: true,
  animation: false,
  symbol: ['none', 'arrow'],
  symbolSize: [11, 20],
  label: { show: false },
  lineStyle: { color: black, width: 2, type: 'solid' },
  data: [
    [{ coord: [0.858, 1144] }, { coord: [0.858, 1096] }],
    [{ coord: [1.187, 1144] }, { coord: [1.187, 1098] }],
    [{ coord: [1.401, 1172] }, { coord: [1.401, 1129] }]
  ]
};

const annText = (x, y, text, size, align) => ({
  type: 'text', x: x, y: y, z: 10,
  style: { text: text, font: 'bold ' + size + 'px ' + FONT, fill: black,
           textAlign: align || 'center', textVerticalAlign: 'middle' }
});

const graphics = temps.map((t, i) => ({
  type: 'text', x: 106, y: labelY[i], z: 10,
  style: { text: t, font: '33px ' + FONT, fill: black, textAlign: 'left', textVerticalAlign: 'middle' }
}));
graphics.push(annText(104, 160, 'd=3.9nm', 41, 'left'));
graphics.push(annText(302, 192, '11H', 36));
graphics.push(annText(547, 190, '22H', 36));
graphics.push(annText(710, 155, 'GaNAs', 38));
graphics.push(annText(803, 198, 'GaAs', 36));

const commaFmt = v => (Math.round(v * 100) / 100).toString().replace('.', ',');

const option = {
  backgroundColor: '#fff',
  animation: false,
  grid: { left: 93, right: 29, top: 120, bottom: 118, containLabel: false, outerBoundsMode: 'none' },
  xAxis: [
    {
      type: 'value', position: 'bottom', min: 0.6, max: 1.6, interval: 0.2,
      name: 'Energia (eV)', nameLocation: 'middle', nameGap: 70,
      nameTextStyle: { fontSize: 50, fontFamily: FONT, color: black },
      axisLine: { show: true, onZero: false, lineStyle: { color: black, width: 3 } },
      axisTick: { show: true, inside: true, length: 15, lineStyle: { color: black, width: 2 } },
      minorTick: { show: true, splitNumber: 2, length: 8, lineStyle: { color: black, width: 2 } },
      splitLine: { show: false },
      axisLabel: { show: true, margin: 20, fontSize: 36, fontFamily: FONT, color: black,
                   showMinLabel: true, showMaxLabel: true, formatter: v => v.toFixed(1).replace('.', ',') }
    },
    {
      type: 'value', position: 'top', min: 0.6, max: 1.6,
      name: 'Dł. fali (μm)', nameLocation: 'middle', nameGap: 63,
      nameTextStyle: { fontSize: 50, fontFamily: FONT, color: black, padding: [0, 0, 0, 24] },
      axisLine: { show: true, onZero: false, lineStyle: { color: black, width: 3 } },
      axisTick: { show: true, inside: true, length: 15, lineStyle: { color: black, width: 2 },
                  customValues: wlTicks.map(w => hc / w) },
      splitLine: { show: false },
      axisLabel: { show: true, margin: 15, fontSize: 36, fontFamily: FONT, color: black,
                   customValues: wlTicks.map(w => hc / w), formatter: v => commaFmt(hc / v) }
    },
    {
      type: 'value', position: 'top', min: 0.6, max: 1.6,
      axisLine: { show: false },
      axisTick: { show: true, inside: true, length: 8, lineStyle: { color: black, width: 2 },
                  customValues: wlMinor.map(w => hc / w) },
      splitLine: { show: false },
      axisLabel: { show: false }
    }
  ],
  yAxis: [
    {
      type: 'value', position: 'left', min: 0, max: 1232,
      name: 'Fotoodbicie (j.w.)', nameLocation: 'middle', nameGap: 28, nameRotate: 90,
      nameTextStyle: { fontSize: 60, fontFamily: FONT, color: black },
      axisLine: { show: true, onZero: false, lineStyle: { color: black, width: 3 } },
      axisTick: { show: true, inside: true, length: 6, lineStyle: { color: black, width: 2 }, customValues: yTicks },
      splitLine: { show: false },
      axisLabel: { show: false }
    },
    {
      type: 'value', position: 'right', min: 0, max: 1232,
      axisLine: { show: true, onZero: false, lineStyle: { color: black, width: 3 } },
      axisTick: { show: true, inside: true, length: 6, lineStyle: { color: black, width: 2 }, customValues: yTicks },
      splitLine: { show: false },
      axisLabel: { show: false }
    }
  ],
  graphic: graphics,
  series: series
};

chart.setOption(option);
</script>
</body>
</html>
